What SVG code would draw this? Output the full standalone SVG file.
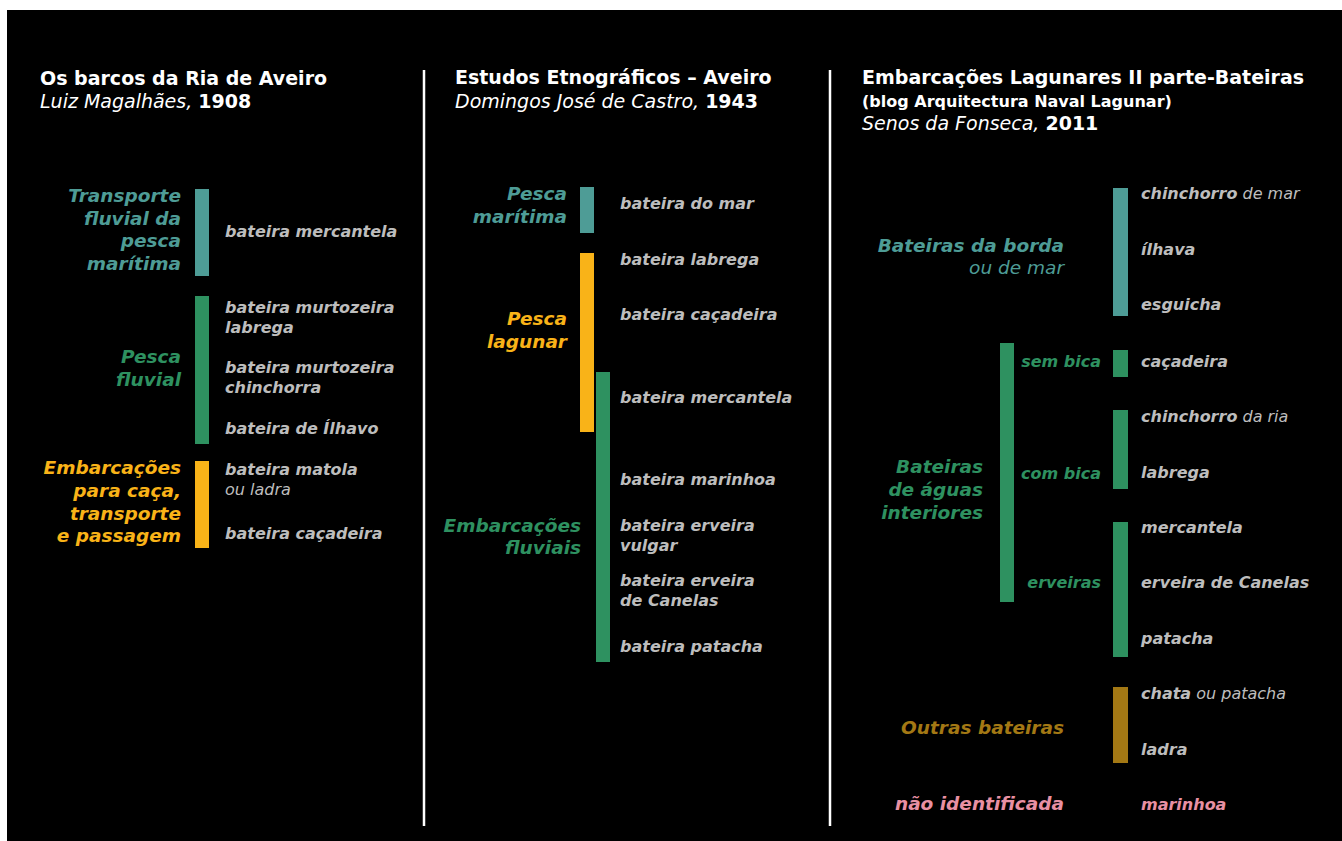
<svg xmlns="http://www.w3.org/2000/svg" width="1342" height="841" viewBox="0 0 1342 841">
<style>
text{font-family:"DejaVu Sans","Verdana",sans-serif;}
.t{fill:#ffffff;font-size:19px;font-weight:bold;}
.s{fill:#ffffff;font-size:19px;font-style:italic;}
.b{font-weight:bold;font-style:normal;}
.it{fill:#bdbdbd;font-size:16px;font-weight:bold;font-style:italic;}
.n{font-weight:normal;}
.cat{font-size:18.5px;font-weight:bold;font-style:italic;text-anchor:end;}
.sub{font-size:16px;font-weight:bold;font-style:italic;text-anchor:end;}
.teal{fill:#4e9c96;}
.green{fill:#2e9160;}
.orange{fill:#f9b318;}
.brown{fill:#a37814;}
.pink{fill:#e890a3;}
.div{stroke:#ffffff;stroke-width:2.5;}
</style>
<rect x="0" y="0" width="1342" height="841" fill="#ffffff"/>
<rect x="7" y="10" width="1335" height="831" fill="#000000"/>

<g id="dividers">
<line class="div" x1="424" y1="70" x2="424" y2="826"/>
<line class="div" x1="830" y1="70" x2="830" y2="826"/>
</g>

<!-- Column 1 -->
<g id="title1">
<text class="t" x="40" y="85">Os barcos da Ria de Aveiro</text>
<text class="s" x="40" y="108">Luiz Magalhães, <tspan class="b">1908</tspan></text>
</g>
<g id="c1-transporte">
<rect class="teal" x="195" y="189" width="14" height="87"/>
<text class="cat teal" x="181"><tspan x="181" y="202">Transporte</tspan><tspan x="181" y="224.5">fluvial da</tspan><tspan x="181" y="247">pesca</tspan><tspan x="181" y="270">marítima</tspan></text>
</g>
<g id="c1-i1"><text class="it" x="225" y="237">bateira mercantela</text></g>
<g id="c1-pesca">
<rect class="green" x="195" y="296" width="14" height="148"/>
<text class="cat green"><tspan x="181" y="363">Pesca</tspan><tspan x="181" y="386">fluvial</tspan></text>
</g>
<g id="c1-i2"><text class="it"><tspan x="225" y="313">bateira murtozeira</tspan><tspan x="225" y="333">labrega</tspan></text></g>
<g id="c1-i3"><text class="it"><tspan x="225" y="373">bateira murtozeira</tspan><tspan x="225" y="393">chinchorra</tspan></text></g>
<g id="c1-i4"><text class="it" x="225" y="434">bateira de Ílhavo</text></g>
<g id="c1-emb">
<rect class="orange" x="195" y="461" width="14" height="87"/>
<text class="cat orange"><tspan x="181" y="474">Embarcações</tspan><tspan x="181" y="497">para caça,</tspan><tspan x="181" y="519.5">transporte</tspan><tspan x="181" y="542">e passagem</tspan></text>
</g>
<g id="c1-i5"><text class="it"><tspan x="225" y="475">bateira matola</tspan><tspan x="225" y="495" class="n">ou ladra</tspan></text></g>
<g id="c1-i6"><text class="it" x="225" y="539">bateira caçadeira</text></g>

<!-- Column 2 -->
<g id="title2">
<text class="t" x="455" y="84">Estudos Etnográficos – Aveiro</text>
<text class="s" x="455" y="108">Domingos José de Castro, <tspan class="b">1943</tspan></text>
</g>
<g id="c2-maritima">
<rect class="teal" x="580" y="187" width="14" height="46"/>
<text class="cat teal"><tspan x="567" y="200">Pesca</tspan><tspan x="567" y="223">marítima</tspan></text>
</g>
<g id="c2-i1"><text class="it" x="620" y="209">bateira do mar</text></g>
<g id="c2-lagunar">
<rect class="orange" x="580" y="253" width="14" height="179"/>
<text class="cat orange"><tspan x="567" y="325">Pesca</tspan><tspan x="567" y="348">lagunar</tspan></text>
</g>
<g id="c2-i2"><text class="it" x="620" y="265">bateira labrega</text></g>
<g id="c2-i3"><text class="it" x="620" y="320">bateira caçadeira</text></g>
<g id="c2-fluviais">
<rect class="green" x="596" y="372" width="14" height="290"/>
<text class="cat green"><tspan x="581" y="532">Embarcações</tspan><tspan x="581" y="554">fluviais</tspan></text>
</g>
<g id="c2-i4"><text class="it" x="620" y="403">bateira mercantela</text></g>
<g id="c2-i5"><text class="it" x="620" y="485">bateira marinhoa</text></g>
<g id="c2-i6"><text class="it"><tspan x="620" y="531">bateira erveira</tspan><tspan x="620" y="551">vulgar</tspan></text></g>
<g id="c2-i7"><text class="it"><tspan x="620" y="586">bateira erveira</tspan><tspan x="620" y="606">de Canelas</tspan></text></g>
<g id="c2-i8"><text class="it" x="620" y="652">bateira patacha</text></g>

<!-- Column 3 -->
<g id="title3">
<text class="t" x="862" y="84">Embarcações Lagunares II parte-Bateiras</text>
<text class="t" x="862" y="107" style="font-size:16px">(blog Arquitectura Naval Lagunar)</text>
<text class="s" x="862" y="130">Senos da Fonseca, <tspan class="b">2011</tspan></text>
</g>
<g id="c3-borda">
<rect class="teal" x="1113" y="188" width="15" height="128"/>
<text class="cat teal"><tspan x="1064" y="252">Bateiras da borda</tspan><tspan x="1064" y="274" class="n">ou de mar</tspan></text>
</g>
<g id="c3-i1"><text class="it" x="1141" y="199">chinchorro<tspan class="n"> de mar</tspan></text></g>
<g id="c3-i2"><text class="it" x="1141" y="255">ílhava</text></g>
<g id="c3-i3"><text class="it" x="1141" y="310">esguicha</text></g>
<g id="c3-interiores">
<rect class="green" x="1000" y="343" width="14" height="259"/>
<text class="cat green"><tspan x="983" y="473">Bateiras</tspan><tspan x="983" y="496">de águas</tspan><tspan x="983" y="519">interiores</tspan></text>
</g>
<g id="c3-sembica">
<rect class="green" x="1113" y="350" width="15" height="27"/>
<text class="sub green" x="1101" y="367">sem bica</text>
</g>
<g id="c3-i4"><text class="it" x="1141" y="367">caçadeira</text></g>
<g id="c3-combica">
<rect class="green" x="1113" y="410" width="15" height="79"/>
<text class="sub green" x="1101" y="479">com bica</text>
</g>
<g id="c3-i5"><text class="it" x="1141" y="422">chinchorro<tspan class="n"> da ria</tspan></text></g>
<g id="c3-i6"><text class="it" x="1141" y="478">labrega</text></g>
<g id="c3-erveiras">
<rect class="green" x="1113" y="522" width="15" height="135"/>
<text class="sub green" x="1101" y="588">erveiras</text>
</g>
<g id="c3-i7"><text class="it" x="1141" y="533">mercantela</text></g>
<g id="c3-i8"><text class="it" x="1141" y="588">erveira de Canelas</text></g>
<g id="c3-i9"><text class="it" x="1141" y="644">patacha</text></g>
<g id="c3-outras">
<rect class="brown" x="1113" y="687" width="15" height="76"/>
<text class="cat brown" x="1064" y="734">Outras bateiras</text>
</g>
<g id="c3-i10"><text class="it" x="1141" y="699">chata<tspan class="n"> ou patacha</tspan></text></g>
<g id="c3-i11"><text class="it" x="1141" y="755">ladra</text></g>
<g id="c3-naoid">
<text class="cat pink" x="1064" y="810">não identificada</text>
</g>
<g id="c3-i12"><text class="it pink" x="1141" y="810">marinhoa</text></g>
</svg>
